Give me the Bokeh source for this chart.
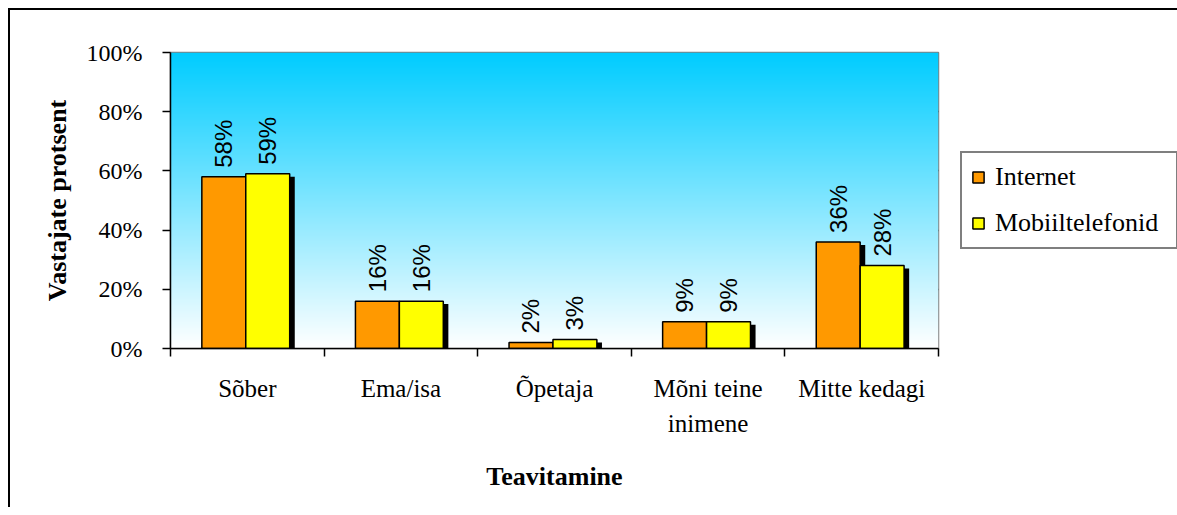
import numpy as np
from bokeh.plotting import figure
from bokeh.models import (Range1d, FixedTicker, NumeralTickFormatter, ColumnDataSource,
                          Legend, LegendItem)
from bokeh.core.properties import value
from bokeh.embed import file_html
from bokeh.resources import INLINE

# ---- data ----
categories = ["Sõber", "Ema/isa", "Õpetaja", "Mõni teine inimene", "Mitte kedagi"]
category_labels = ["Sõber", "Ema/isa", "Õpetaja", "Mõni teine\ninimene", "Mitte kedagi"]
internet = [58, 16, 2, 9, 36]
mobiil = [59, 16, 3, 9, 28]
series_names = ["Internet", "Mobiiltelefonid"]
y_ticks = [0, 20, 40, 60, 80, 100]
x_title = "Teavitamine"
y_title = "Vastajate protsent"

ORANGE = "#FF9900"
YELLOW = "#FFFF00"
SERIF = "Liberation Serif"
SANS = "Liberation Sans"

n = len(categories)
centers = np.arange(n) + 0.5
bar_w = 0.286
offsets = [-0.153, 0.133]
shadow_dx = 0.033
shadow_dy = 0.010

p = figure(frame_width=768, frame_height=296, x_range=Range1d(0, n), y_range=Range1d(0, 1),
           output_backend="svg", toolbar_location=None,
           min_border_left=160, min_border_right=0, min_border_top=42, min_border_bottom=159,
           background_fill_color="white", border_fill_color="white")
p.styles = {"border-left": "2px solid black", "border-top": "2px solid black",
            "margin-left": "8px", "margin-top": "8px"}

# gradient background
N = 256
t = np.linspace(0, 1, N)
img = np.empty((N, 1), dtype=np.uint32)
view = img.view(dtype=np.uint8).reshape((N, 1, 4))
view[:, 0, 0] = np.round(255 * (1 - t)).astype(np.uint8)
view[:, 0, 1] = np.round(255 * (1 - t) + 204 * t).astype(np.uint8)
view[:, 0, 2] = 255
view[:, 0, 3] = 255
p.image_rgba(image=[img], x=0, y=0, dw=n, dh=1)

# grid
p.xgrid.visible = False
p.ygrid.ticker = FixedTicker(ticks=[v / 100 for v in y_ticks])
p.ygrid.grid_line_color = "black"
p.ygrid.grid_line_width = 1.5
p.outline_line_color = "#808080"
p.outline_line_width = 1.5

series = [internet, mobiil]
colors = [ORANGE, YELLOW]
renderers = []
# shadows
for vals, off in zip(series, offsets):
    src = ColumnDataSource(dict(x=centers + off + shadow_dx,
                                top=[v / 100 - shadow_dy for v in vals]))
    p.vbar(x="x", top="top", bottom=0, width=bar_w, source=src,
           fill_color="black", line_color=None)
# bars
for vals, off, col in zip(series, offsets, colors):
    src = ColumnDataSource(dict(x=centers + off, top=[v / 100 for v in vals],
                                lab=[f"{v}%" for v in vals]))
    r = p.vbar(x="x", top="top", bottom=0, width=bar_w, source=src,
               fill_color=col, line_color="black", line_width=1.5)
    renderers.append(r)
    p.text(x="x", y="top", text="lab", source=src, angle=np.pi / 2,
           text_align="left", text_baseline="middle", y_offset=-9,
           text_font=value(SANS), text_font_size="24px", text_color="black")

# y axis
ya = p.yaxis[0]
ya.ticker = FixedTicker(ticks=[v / 100 for v in y_ticks])
ya.formatter = NumeralTickFormatter(format="0%")
ya.axis_line_color = "black"
ya.axis_line_width = 1.5
ya.major_tick_out = 8
ya.major_tick_in = 0
ya.major_tick_line_width = 1.5
ya.minor_tick_line_color = None
ya.major_label_standoff = 20
ya.major_label_text_font = SERIF
ya.major_label_text_font_size = "24px"
ya.major_label_text_color = "black"
ya.axis_label = y_title
ya.axis_label_text_font = SERIF
ya.axis_label_text_font_style = "bold"
ya.axis_label_text_font_size = "26px"
ya.axis_label_text_color = "black"
ya.axis_label_standoff = 12

# x axis
xa = p.xaxis[0]
xa.ticker = FixedTicker(ticks=list(centers), minor_ticks=list(range(n + 1)))
xa.major_label_overrides = {float(c): lab for c, lab in zip(centers, category_labels)}
xa.axis_line_color = "black"
xa.axis_line_width = 1.5
xa.major_tick_line_color = None
xa.major_tick_out = 8
xa.major_tick_in = 0
xa.minor_tick_line_color = "black"
xa.minor_tick_line_width = 1.5
xa.minor_tick_out = 8
xa.minor_tick_in = 0
xa.major_label_standoff = 18
xa.major_label_text_font = SERIF
xa.major_label_text_font_size = "25px"
xa.major_label_text_color = "black"
xa.major_label_text_line_height = 1.3
xa.axis_label = x_title
xa.axis_label_text_font = SERIF
xa.axis_label_text_font_style = "bold"
xa.axis_label_text_font_size = "26px"
xa.axis_label_text_color = "black"
xa.axis_label_standoff = 22

legend = Legend(items=[LegendItem(label=nm, renderers=[r]) for nm, r in zip(series_names, renderers)],
                location="center_left", orientation="vertical",
                border_line_color="black", border_line_width=2,
                background_fill_color="white", background_fill_alpha=1.0,
                label_text_font=SERIF, label_text_font_size="26px", label_text_color="black",
                glyph_width=14, glyph_height=14, label_standoff=10, spacing=16,
                padding=9, margin=22, label_height=22, label_width=172)
p.add_layout(legend, "right")

open("out.html", "w").write(file_html(p, INLINE))
